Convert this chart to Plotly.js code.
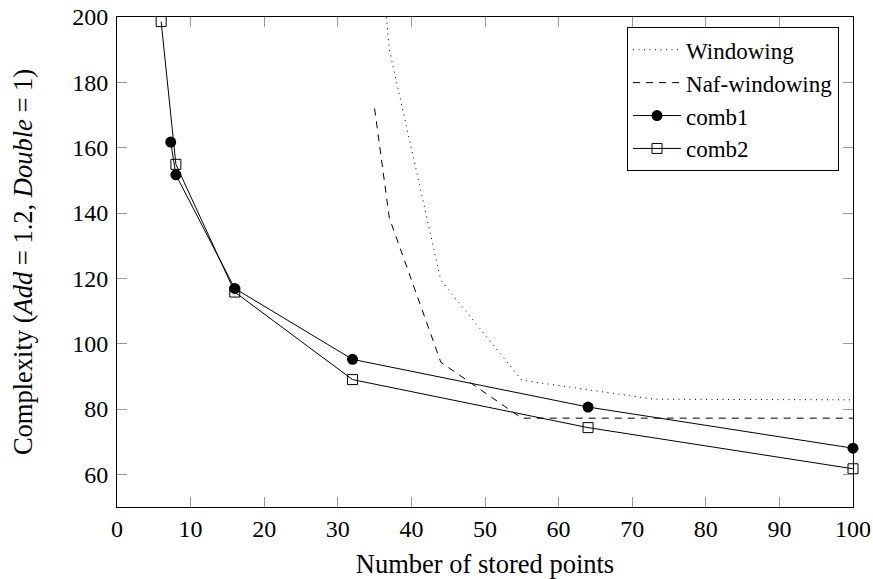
<!DOCTYPE html>
<html>
<head>
<meta charset="utf-8">
<script src="https://cdn.plot.ly/plotly-3.0.1.min.js"></script>
<style>html,body{margin:0;padding:0;background:#fff;}#chart{width:873px;height:579px;}</style>
</head>
<body>
<div id="chart"></div>
<script>
// Data
const xWindowing = [36, 37, 44, 55, 73, 100];
const yWindowing = [215, 190, 119.4, 88.8, 83.0, 82.8];
const xNaf = [35, 37, 44, 55, 100];
const yNaf = [172, 138.5, 94.3, 77.2, 77.2];
const xComb1 = [7.3, 8, 16, 32, 64, 100];
const yComb1 = [161.7, 151.7, 116.9, 95.2, 80.6, 68.0];
const xComb2 = [6, 8, 16, 32, 64, 100];
const yComb2 = [198.6, 154.9, 115.8, 89.0, 74.3, 61.7];
const seriesNames = ["Windowing", "Naf-windowing", "comb1", "comb2"];
const xTicks = [0, 10, 20, 30, 40, 50, 60, 70, 80, 90, 100];
const yTicks = [60, 80, 100, 120, 140, 160, 180, 200];

const FONT = "Liberation Serif, Times New Roman, serif";

const traces = [
  {x: xWindowing, y: yWindowing, name: seriesNames[0], mode: "lines",
   line: {color: "#000", width: 1, dash: "1px,4.5px"}},
  {x: xNaf, y: yNaf, name: seriesNames[1], mode: "lines",
   line: {color: "#000", width: 1, dash: "7px,6px"}},
  {x: xComb1, y: yComb1, name: seriesNames[2], mode: "lines+markers",
   line: {color: "#000", width: 1},
   marker: {symbol: "circle", size: 11, color: "#000"}, cliponaxis: false},
  {x: xComb2, y: yComb2, name: seriesNames[3], mode: "lines+markers",
   line: {color: "#000", width: 1},
   marker: {symbol: "square-open", size: 10, color: "#000", line: {width: 1, color: "#000"}}, cliponaxis: false}
];

const layout = {
  width: 873, height: 579,
  margin: {l: 117, r: 20, t: 17, b: 72},
  paper_bgcolor: "#fff", plot_bgcolor: "#fff",
  font: {family: FONT, size: 24, color: "#000"},
  showlegend: true,
  legend: {
    x: 0.981, y: 0.979, xanchor: "right", yanchor: "top",
    bordercolor: "#000", borderwidth: 1, bgcolor: "#fff",
    font: {family: FONT, size: 23, color: "#000"},
    itemwidth: 48, tracegroupgap: 0
  },
  xaxis: {
    range: [0, 100], tickvals: xTicks, ticktext: xTicks.map(String),
    showgrid: false, zeroline: false,
    showline: true, linecolor: "#000", linewidth: 1, mirror: "ticks",
    ticks: "inside", ticklen: 10, tickcolor: "#999", tickwidth: 1,
    tickfont: {family: FONT, size: 24},
    title: {text: "Number of stored points", font: {family: FONT, size: 26.5}, standoff: 13}
  },
  yaxis: {
    range: [50, 200], tickvals: yTicks, ticktext: yTicks.map(String),
    showgrid: false, zeroline: false,
    showline: true, linecolor: "#000", linewidth: 1, mirror: "ticks",
    ticks: "inside", ticklen: 10, tickcolor: "#999", tickwidth: 1,
    tickfont: {family: FONT, size: 24}, ticklabelstandoff: 3,
    title: {text: "Complexity (<i>Add</i> = 1.2, <i>Double</i> = 1)", font: {family: FONT, size: 26.5}, standoff: 31}
  }
};

Plotly.newPlot("chart", traces, layout, {displayModeBar: false, staticPlot: true});
</script>
</body>
</html>
